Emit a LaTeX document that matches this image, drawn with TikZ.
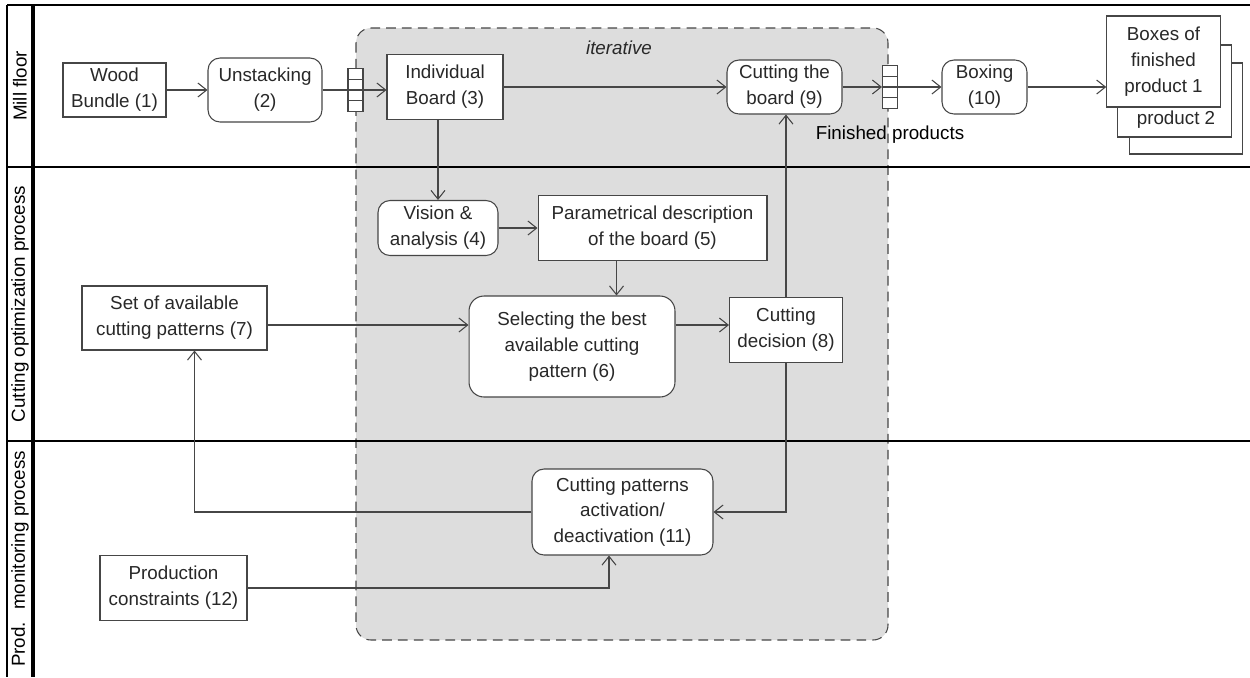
\documentclass[tikz,border=0pt]{standalone}
\usepackage{fontspec}
\setmainfont{Liberation Sans}
\usepackage{tikz}
\usetikzlibrary{positioning,shapes,arrows.meta}

\definecolor{linegray}{RGB}{70,70,70}
\definecolor{itergray}{RGB}{221,221,221}
\definecolor{textgray}{RGB}{40,40,40}

\tikzset{activity/.style={draw=linegray, fill=white, rounded corners=0.24cm, align=center, inner sep=0pt, text=textgray}}
\tikzset{object/.style={draw=linegray, fill=white, rectangle, align=center, inner sep=0pt, text=textgray}}
\tikzset{pinbox/.style={draw=linegray, fill=white, minimum width=0.3cm, minimum height=0.86cm, inner sep=0pt}}
\tikzset{lane/.style={rotate=90, text=black}}

\begin{document}
\begin{tikzpicture}[x=0.02cm, y=-0.02cm, line width=0.6pt, >={Straight Barb[length=5pt,width=8pt]}, font=\fontsize{10.7}{14.7}\selectfont]
  \useasboundingbox (0,0) rectangle (1250,677);

  % iterative region
  \draw[draw=linegray, fill=itergray, dash pattern=on 5.5pt off 3.5pt, rounded corners=0.3cm] (356,28) rectangle (888,640);
  \node[font=\fontsize{10.7}{14.7}\selectfont\itshape, text=textgray] (iterlbl) at (619,48) {iterative};

  % swimlanes
  \draw[line width=1.2pt] (7,5) -- (1250,5);
  \draw[line width=1pt] (7,5) -- (7,677);
  \draw[line width=2pt] (33,5) -- (33,677);
  \draw[line width=1.2pt] (7,167) -- (1250,167);
  \draw[line width=1.2pt] (7,441) -- (1250,441);
  \node[lane] (laneA) at (20,86) {Mill floor};
  \node[lane] (laneB) at (20,304) {Cutting optimization process};
  \node[lane] (laneC) at (20,559) {Prod.~ monitoring process};

  % mill floor
  \node[object, minimum width=2.06cm, minimum height=1.08cm] (wood) at (114.5,90) {Wood\\Bundle (1)};
  \node[activity, minimum width=2.28cm, minimum height=1.28cm] (unstack) at (265,90) {Unstacking\\(2)};
  \node[pinbox] (pinA) at (355.5,90) {};
  \node[object, minimum width=2.32cm, minimum height=1.3cm] (board) at (445,87) {Individual\\Board (3)};
  \node[activity, minimum width=2.3cm, minimum height=1.08cm] (cut) at (784.5,87) {Cutting the\\board (9)};
  \node[pinbox] (pinB) at (890,87) {};
  \node[activity, minimum width=1.7cm, minimum height=1.08cm] (boxing) at (984.5,87) {Boxing\\(10)};
  \node[object, minimum width=2.27cm, minimum height=1.82cm] (boxC) at (1186,108.5) {};
  \node[object, minimum width=2.27cm, minimum height=1.84cm] (boxB) at (1174.5,91) {};
  \node[text=textgray] (prodtwo) at (1176,120) {product 2};
  \node[object, minimum width=2.27cm, minimum height=1.82cm] (boxA) at (1163.5,61.5) {Boxes of\\finished\\product 1};
  \node[text=black] (finlbl) at (890,135) {Finished products};
  \foreach \k in {-0.215,0,0.215} {
    \draw[linegray] ([yshift=\k cm]pinA.west) -- ([yshift=\k cm]pinA.east);
    \draw[linegray] ([yshift=\k cm]pinB.west) -- ([yshift=\k cm]pinB.east);
  }

  % cutting optimization
  \node[activity, minimum width=2.4cm, minimum height=1.1cm] (vision) at (438,228) {Vision \&\\analysis (4)};
  \node[object, minimum width=4.58cm, minimum height=1.3cm] (param) at (652.5,228) {Parametrical description\\of the board (5)};
  \node[activity, rounded corners=0.3cm, minimum width=4.12cm, minimum height=2.02cm] (select) at (572,346.5) {Selecting the best\\available cutting\\pattern (6)};
  \node[object, minimum width=2.26cm, minimum height=1.3cm] (decision) at (786,330) {Cutting\\decision (8)};
  \node[object, minimum width=3.7cm, minimum height=1.28cm] (setpat) at (174.5,318) {Set of available\\cutting patterns (7)};
  \coordinate (rowB) at (0,325);

  % production monitoring
  \node[activity, minimum width=3.62cm, minimum height=1.72cm] (activ) at (622.5,512) {Cutting patterns\\activation/\\deactivation (11)};
  \node[object, minimum width=2.94cm, minimum height=1.3cm] (prodcons) at (173.5,588) {Production\\constraints (12)};

  % flows
  \path[->, linegray] (wood) edge (unstack);
  \draw[linegray] (unstack) -- (pinA);
  \draw[->, linegray] (pinA.east) -- (pinA.east -| board.west);
  \path[->, linegray] (board) edge (cut);
  \path[->, linegray] (cut) edge (pinB);
  \path[->, linegray] (pinB) edge (boxing);
  \draw[->, linegray] (boxing.east) -- (boxing.east -| boxA.west);
  \draw[->, linegray] (vision |- board.south) -- (vision.north);
  \path[->, linegray] (vision) edge (param);
  \draw[->, linegray] ([xshift=-0.72cm]param.south) -- ([xshift=-0.72cm]param.south |- select.north);
  \draw[->, linegray] (setpat.east |- rowB) -- (select.west |- rowB);
  \draw[->, linegray] (select.east |- rowB) -- (decision.west |- rowB);
  \draw[->, linegray] (decision) -- (decision |- cut.south);
  \draw[->, linegray] (decision.south) |- (activ.east);
  \draw[->, linegray] (activ.west) -| ([xshift=0.4cm]setpat.south);
  \draw[->, linegray] (prodcons.east) -| ([xshift=-0.27cm]activ.south);
\end{tikzpicture}
\end{document}
